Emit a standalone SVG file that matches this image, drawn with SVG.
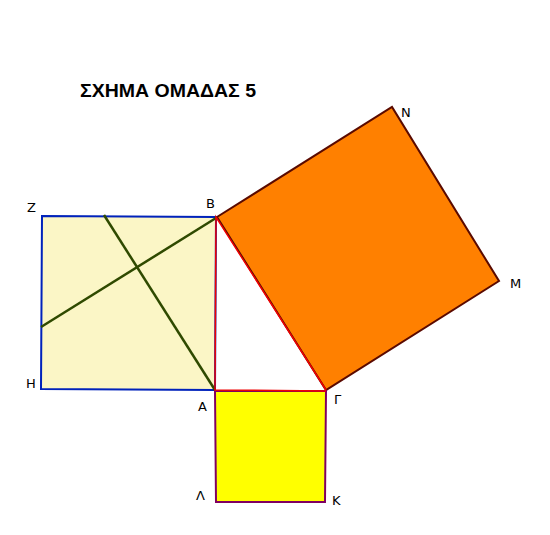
<svg xmlns="http://www.w3.org/2000/svg" width="550" height="535" viewBox="0 0 550 535">
<style>
.lbl{font-family:"DejaVu Sans",Verdana,sans-serif;font-size:13px;fill:#000}
.title{font-family:"Liberation Sans",Arial,sans-serif;font-size:18px;font-weight:bold;fill:#000}
</style>
<rect width="550" height="535" fill="#fff"/>
<text class="title" x="80" y="97" textLength="176" lengthAdjust="spacingAndGlyphs">ΣΧΗΜΑ ΟΜΑΔΑΣ 5</text>
<g id="sqZ">
<polygon points="42,216 216,217 215,390 41,389" fill="#fbf6c6" stroke="#0022bb" stroke-width="2"/>
</g>
<g id="sqN">
<polygon points="217,217 392,107 499,281 326,390" fill="#ff8000" stroke="#5a0a00" stroke-width="2"/>
</g>
<g id="sqK">
<polygon points="215,391 326,391 325,502 216,502" fill="#ffff00" stroke="#800060" stroke-width="2"/>
</g>
<g id="connectors">
<line x1="104" y1="215" x2="215" y2="390" stroke="#2f4a00" stroke-width="2.5"/>
<line x1="216" y1="218" x2="41" y2="327" stroke="#2f4a00" stroke-width="2.5"/>
<polyline points="326,391 215,390 216,217 326,390" fill="none" stroke="#f00000" stroke-width="1.5"/>
</g>
<g id="labels">
<text class="lbl" x="27" y="212">Z</text>
<text class="lbl" x="206" y="208">B</text>
<text class="lbl" x="26" y="388">H</text>
<text class="lbl" x="198" y="411">A</text>
<text class="lbl" x="334" y="404">Γ</text>
<text class="lbl" x="196" y="500">Λ</text>
<text class="lbl" x="332" y="505">K</text>
<text class="lbl" x="401" y="117">N</text>
<text class="lbl" x="510" y="288">M</text>
</g>
</svg>
